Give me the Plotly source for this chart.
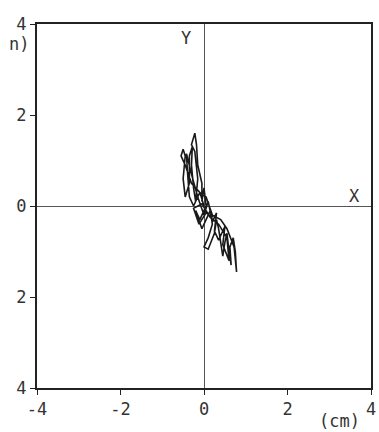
import plotly.graph_objects as go

# sway path (cm)
sway_x = [0.0, -0.1, -0.3, -0.45, -0.55, -0.5, -0.45, -0.5, -0.45, -0.35, -0.35, -0.28, -0.3, -0.25,
          -0.2, -0.15, -0.22, -0.3, -0.22, -0.18, -0.15, -0.05, -0.05, 0.0, 0.05, -0.1, -0.2, -0.05,
          0.05, 0.15, 0.2, 0.1, 0.0, 0.1, 0.25, 0.3, 0.35, 0.4, 0.45, 0.5, 0.55, 0.6, 0.65, 0.62,
          0.7, 0.75, 0.78, 0.72, 0.55, 0.4, 0.2, 0.05, -0.1, -0.25, -0.35, -0.4, -0.42, -0.3,
          -0.15, 0.0, 0.1, 0.2, 0.3, 0.25, 0.35, 0.5, 0.45, 0.6, 0.55, 0.35, 0.15, -0.05,
          -0.25, -0.12, 0.05, 0.2, 0.12]
sway_y = [0.0, 0.3, 0.5, 0.9, 1.1, 1.25, 1.1, 0.6, 0.2, 0.5, 1.1, 1.3, 0.9, 0.4,
          0.1, 0.6, 1.2, 1.35, 1.6, 1.35, 0.9, 0.5, 0.1, 0.4, 0.0, -0.3, -0.1, -0.5,
          -0.3, -0.1, -0.4, -0.7, -0.9, -0.95, -0.6, -0.3, -0.5, -0.8, -1.1, -0.8, -0.6, -1.0, -1.3, -0.9,
          -0.7, -1.0, -1.45, -0.9, -0.5, -0.3, -0.2, 0.2, 0.3, 0.0, 0.2, 0.8, 1.15, 0.7,
          0.2, -0.2, 0.1, -0.35, -0.15, -0.55, -0.75, -0.45, -0.85, -1.2, -0.7, -0.4, -0.25, 0.05,
          -0.05, -0.4, -0.15, -0.25, 0.0]

x_ticks = [-4, -2, 0, 2, 4]
x_tick_labels = ["-4", "-2", "0", "2", "4"]
y_ticks = [-4, -2, 0, 2, 4]
y_tick_labels = ["4", "2", "0", "2", "4"]

font = dict(family="DejaVu Sans Mono", size=17, color="#333")

fig = go.Figure()
fig.add_trace(go.Scatter(x=sway_x, y=sway_y, mode="lines",
                         line=dict(color="#1a1a1a", width=1.6), showlegend=False))

axis_common = dict(range=[-4, 4], showgrid=False, zeroline=True, zerolinecolor="#555",
                   zerolinewidth=1.3, showline=True, linecolor="#222", linewidth=2, mirror=True,
                   ticks="outside", ticklen=5, tickcolor="#222", tickfont=font, automargin=False)

fig.update_layout(
    width=379, height=432,
    margin=dict(l=37, r=8, t=24, b=44),
    paper_bgcolor="white", plot_bgcolor="white",
    font=font,
    xaxis=dict(tickvals=x_ticks, ticktext=x_tick_labels, **axis_common),
    yaxis=dict(tickvals=y_ticks, ticktext=y_tick_labels, **axis_common),
    annotations=[
        dict(text="Y", x=-0.43, y=3.7, xref="x", yref="y", showarrow=False, font=font),
        dict(text="X", x=3.6, y=0.22, xref="x", yref="y", showarrow=False, font=font),
        dict(text="(cm)", x=0.907, y=-0.09, xref="paper", yref="paper", xanchor="center",
             yanchor="middle", showarrow=False, font=font),
        dict(text="n)", x=-0.09, y=0.945, xref="paper", yref="paper", xanchor="left",
             yanchor="middle", showarrow=False, font=font),
    ],
)
fig.write_html("out.html", config={"displayModeBar": False},
               post_script="document.body.style.margin='0';document.body.style.overflow='hidden';")
